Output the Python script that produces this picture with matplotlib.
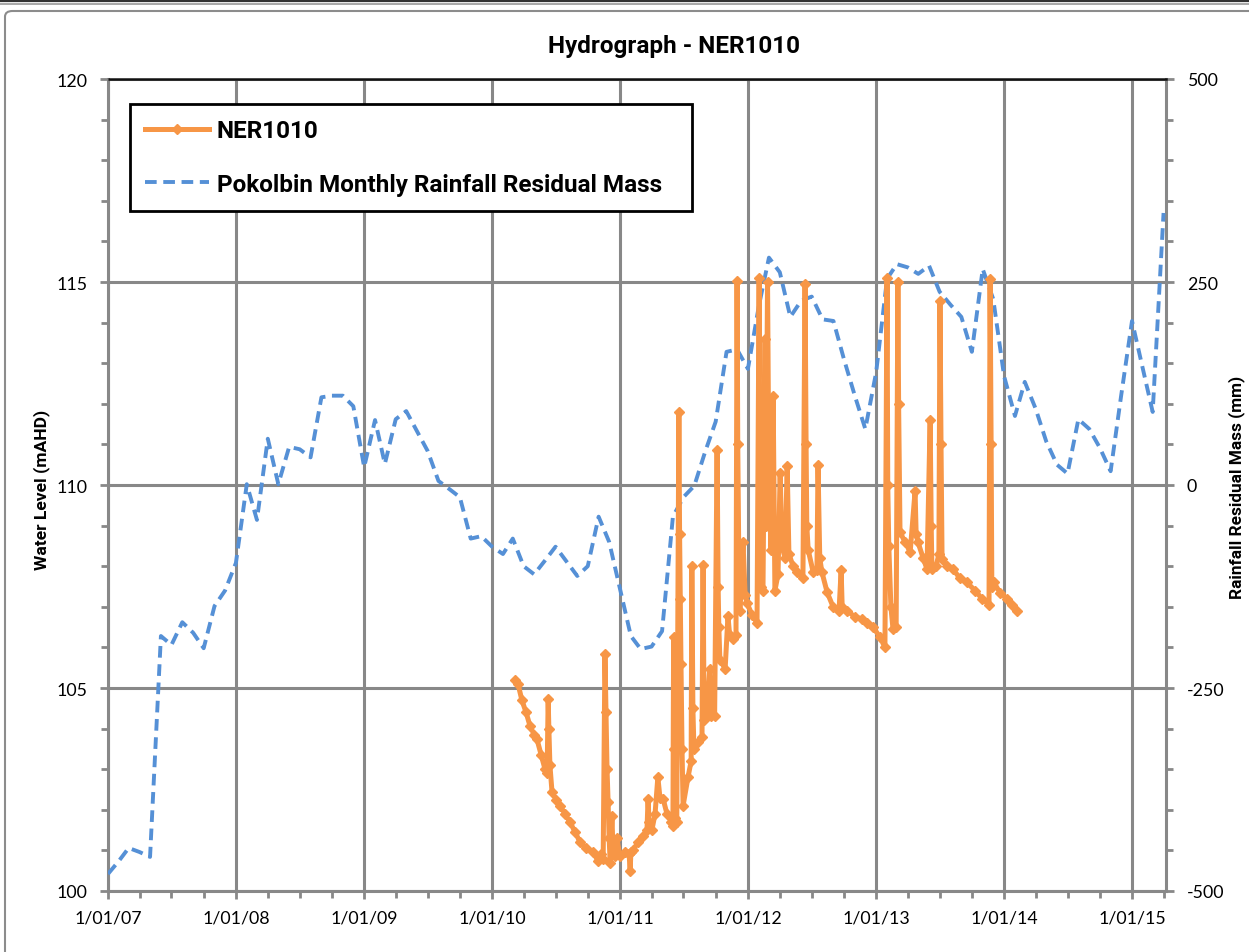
import matplotlib
matplotlib.use("Agg")
import matplotlib.pyplot as plt
import matplotlib.dates as mdates
import matplotlib.ticker as mticker
import pandas as pd
from matplotlib.patches import FancyBboxPatch
from matplotlib.lines import Line2D

plt.rcParams['font.family'] = ['Lato', 'DejaVu Sans']
plt.rcParams['axes.unicode_minus'] = False
BOLD_FAMILY = ['Roboto', 'DejaVu Sans']

# ---------------- text ----------------
title = "Hydrograph - NER1010"
wl_label = "NER1010"
rain_label = "Pokolbin Monthly Rainfall Residual Mass"
y_left_label = "Water Level (mAHD)"
y_right_label = "Rainfall Residual Mass (mm)"

# ---------------- data ----------------
# Monthly rainfall residual mass (mm), Jan 2007 .. Apr 2015
rain_start = "2007-01-01"
rain_resid = [
    -479, -463, -447, -452, -458, -186, -197, -169, -182, -201, -149, -130,   # 2007
    -96, 1, -43, 57, 1, 47, 44, 34, 108, 110, 110, 97,                         # 2008
    22, 80, 26, 81, 91, 66, 42, 5, -5, -15, -66, -63,                          # 2009
    -76, -85, -66, -100, -110, -93, -76, -94, -112, -100, -39, -70,            # 2010
    -128, -186, -202, -199, -180, -39, -15, -1, 41, 78, 164, 167,              # 2011
    143, 220, 280, 262, 207, 227, 232, 204, 202, 155, 110, 69,                 # 2012
    139, 254, 272, 268, 260, 270, 238, 222, 207, 164, 266, 229,                # 2013
    134, 85, 127, 94, 54, 25, 14, 81, 69, 46, 17, 110,                         # 2014
    202, 143, 90, 335,                                                         # 2015
]

# NER1010 water level (mAHD)
wl_dates = [
    "2010-03-07", "2010-03-16", "2010-03-27", "2010-04-08", "2010-04-19", "2010-05-01",
    "2010-05-09", "2010-05-21", "2010-06-01", "2010-06-07", "2010-06-10", "2010-06-12",
    "2010-06-15", "2010-06-21", "2010-07-02", "2010-07-14", "2010-07-28", "2010-08-11",
    "2010-08-26", "2010-09-09", "2010-09-26", "2010-10-16", "2010-10-30", "2010-11-08",
    "2010-11-14", "2010-11-19", "2010-11-22", "2010-11-25", "2010-11-28", "2010-12-01",
    "2010-12-04", "2010-12-09", "2010-12-12", "2010-12-18", "2010-12-23", "2011-01-01",
    "2011-01-15", "2011-01-27", "2011-01-30", "2011-02-01", "2011-02-07", "2011-02-21",
    "2011-03-08", "2011-03-19", "2011-03-22", "2011-03-25", "2011-04-02", "2011-04-11",
    "2011-04-19", "2011-04-25", "2011-05-04", "2011-05-15", "2011-05-27", "2011-06-01",
    "2011-06-03", "2011-06-05", "2011-06-08", "2011-06-12", "2011-06-18", "2011-06-20",
    "2011-06-22", "2011-06-24", "2011-06-27", "2011-06-30", "2011-07-14", "2011-07-23",
    "2011-07-25", "2011-07-28", "2011-07-31", "2011-08-11", "2011-08-23", "2011-08-26",
    "2011-08-29", "2011-09-05", "2011-09-14", "2011-09-19", "2011-09-28", "2011-10-05",
    "2011-10-08", "2011-10-10", "2011-10-13", "2011-10-28", "2011-11-05", "2011-11-10",
    "2011-11-19", "2011-11-28", "2011-12-01", "2011-12-03", "2011-12-06", "2011-12-09",
    "2011-12-18", "2011-12-24", "2011-12-29",
    "2012-01-13", "2012-01-27", "2012-02-02", "2012-02-04", "2012-02-07", "2012-02-13",
    "2012-02-19", "2012-02-21", "2012-02-26", "2012-03-01", "2012-03-07", "2012-03-13",
    "2012-03-18", "2012-03-27", "2012-04-02", "2012-04-07", "2012-04-16", "2012-04-22",
    "2012-04-27", "2012-05-09", "2012-05-20", "2012-06-06", "2012-06-12", "2012-06-15",
    "2012-06-17", "2012-06-21", "2012-07-05", "2012-07-16", "2012-07-19", "2012-07-24",
    "2012-07-30", "2012-08-14", "2012-08-31", "2012-09-17", "2012-09-23", "2012-09-26",
    "2012-10-10", "2012-11-02", "2012-11-22", "2012-12-06", "2012-12-23",
    "2013-01-12", "2013-01-26", "2013-02-01", "2013-02-03", "2013-02-06", "2013-02-12",
    "2013-02-18", "2013-02-27", "2013-03-04", "2013-03-06", "2013-03-10", "2013-03-24",
    "2013-04-08", "2013-04-22", "2013-04-25", "2013-04-30", "2013-05-15", "2013-05-26",
    "2013-06-04", "2013-06-07", "2013-06-09", "2013-06-21", "2013-06-29", "2013-07-02",
    "2013-07-05", "2013-07-08", "2013-07-22", "2013-08-08", "2013-08-28", "2013-09-17",
    "2013-10-10", "2013-10-30", "2013-11-19", "2013-11-22", "2013-11-25", "2013-11-27",
    "2013-12-03", "2013-12-20", "2014-01-09", "2014-01-24", "2014-02-07",
]
wl_values = [
    105.20, 105.10, 104.70, 104.40, 104.07, 103.85,
    103.74, 103.35, 103.00, 102.90, 104.73, 104.00,
    103.10, 102.44, 102.25, 102.10, 101.90, 101.70,
    101.45, 101.20, 101.05, 100.96, 100.74, 100.90,
    100.80, 105.84, 104.40, 103.00, 102.20, 101.30,
    100.70, 101.85, 101.00, 100.85, 101.30, 100.85,
    100.95, 100.90, 100.50, 100.95, 101.00, 101.20,
    101.35, 101.50, 102.27, 101.70, 101.50, 101.90,
    102.80, 102.30, 102.27, 101.90, 101.70, 101.60,
    106.25, 103.50, 101.80, 101.70, 111.80, 108.80,
    107.20, 105.60, 103.50, 102.10, 102.80, 103.20,
    108.00, 104.50, 103.50, 103.67, 103.80, 108.03,
    104.20, 104.30, 105.47, 104.30, 104.30, 110.86,
    107.50, 106.50, 105.70, 105.47, 106.77, 106.30,
    106.20, 106.30, 115.02, 111.00, 108.20, 106.90,
    108.60, 107.30, 107.10,
    106.80, 106.60, 115.10, 110.00, 107.50, 107.40,
    113.60, 109.00, 115.00, 110.00, 108.40, 112.20,
    107.40, 107.80, 110.30, 108.50, 108.20, 110.47,
    108.30, 108.00, 107.86, 107.70, 114.95, 111.00,
    109.00, 108.40, 107.86, 107.90, 110.50, 108.20,
    107.86, 107.36, 107.00, 106.90, 107.90, 107.00,
    106.90, 106.75, 106.70, 106.60, 106.50,
    106.25, 106.00, 115.10, 110.00, 108.50, 107.00,
    106.45, 106.50, 115.00, 112.00, 108.84, 108.60,
    108.35, 109.85, 108.80, 108.60, 108.20, 107.93,
    111.60, 109.00, 107.93, 108.00, 108.30, 114.53,
    111.00, 108.18, 108.00, 107.93, 107.70, 107.60,
    107.40, 107.20, 107.05, 115.07, 111.00, 107.50,
    107.60, 107.35, 107.20, 107.05, 106.90,
]

x_start = "2007-01-01"
x_end = "2015-04-08"

# ---------------- style ----------------
ORANGE = "#F79646"
BLUE = "#5590D6"
GRID = "#888888"

W, H = 1249, 953
fig = plt.figure(figsize=(W / 100, H / 100), dpi=100)

rect = [108 / W, 1 - 892 / H, (1166 - 108) / W, (892 - 80) / H]
ax_r = fig.add_axes(rect)
ax_l = fig.add_axes(rect, sharex=ax_r)
ax_l.patch.set_visible(False)

rain_x = pd.date_range(rain_start, periods=len(rain_resid), freq="MS")
wl_x = pd.to_datetime(wl_dates)

# rainfall residual (right axis), dashed blue
ax_r.plot(rain_x, rain_resid, color=BLUE, lw=2.8, ls=(0, (3.0, 1.7)),
          dash_capstyle="butt", zorder=3)
# water level (left axis), orange with diamonds
ax_l.plot(wl_x, wl_values, color=ORANGE, lw=3.6, marker="D", ms=5.5,
          mec=ORANGE, mfc=ORANGE, zorder=3)

ax_r.set_xlim(pd.Timestamp(x_start), pd.Timestamp(x_end))
ax_r.set_ylim(-500, 500)
ax_l.set_ylim(100, 120)

# ticks
ax_r.xaxis.set_major_locator(mdates.YearLocator())
ax_r.xaxis.set_minor_locator(mdates.MonthLocator(bymonth=[4, 7, 10]))
ax_r.xaxis.set_major_formatter(mticker.FuncFormatter(
    lambda v, p: (lambda d: f"{d.day}/{d.month:02d}/{d.year % 100:02d}")(mdates.num2date(v))))
ax_r.yaxis.tick_right()
ax_r.yaxis.set_major_locator(mticker.MultipleLocator(250))
ax_r.yaxis.set_minor_locator(mticker.MultipleLocator(50))
ax_l.yaxis.set_major_locator(mticker.MultipleLocator(5))
ax_l.yaxis.set_minor_locator(mticker.MultipleLocator(1))
ax_l.xaxis.set_visible(False)

for a in (ax_r, ax_l):
    a.tick_params(which="both", direction="out", color=GRID, width=2, labelsize=12.8,
                  labelcolor="black")
    a.tick_params(which="major", length=6)
    a.tick_params(which="minor", length=5)
ax_r.tick_params(axis="x", pad=7)
ax_r.tick_params(axis="y", pad=9)
ax_l.tick_params(axis="y", pad=9)

ax_r.grid(True, which="major", color=GRID, lw=2.2)
ax_r.set_axisbelow(True)

for s in ("left", "right", "bottom"):
    ax_r.spines[s].set_color(GRID)
    ax_r.spines[s].set_linewidth(2.2)
ax_r.spines["top"].set_color("#111111")
ax_r.spines["top"].set_linewidth(1.8)
for s in ax_l.spines.values():
    s.set_visible(False)

# legend
h1 = Line2D([], [], color=ORANGE, lw=3.6, marker="D", ms=5.5)
h2 = Line2D([], [], color=BLUE, lw=2.8, ls=(0, (3.0, 1.7)))
x0 = (130 - 108) / (1166 - 108)
x1 = (692 - 108) / (1166 - 108)
ytop = (892 - 105) / (892 - 80)
leg = ax_l.legend([h1, h2], [wl_label, rain_label], loc="upper left",
                  bbox_to_anchor=(x0, ytop - 0.2, x1 - x0, 0.2), mode="expand",
                  borderaxespad=0, fancybox=False, frameon=True, framealpha=1,
                  edgecolor="black",
                  prop={"family": BOLD_FAMILY, "weight": "bold", "size": 17.5},
                  handlelength=2.65, handletextpad=0.3, labelspacing=1.26,
                  borderpad=0.62)
leg.get_frame().set_linewidth(2.0)

# titles / axis labels
fig.text(674 / W, 1 - 46 / H, title, ha="center", va="center",
         fontsize=17.5, fontweight="bold", family=BOLD_FAMILY)
fig.text(42 / W, 1 - 490 / H, y_left_label, ha="center", va="center",
         rotation=90, fontsize=12.6, fontweight="bold", family=BOLD_FAMILY)
fig.text(1237 / W, 1 - 487 / H, y_right_label, ha="center", va="center",
         rotation=90, fontsize=12.4, fontweight="bold", family=BOLD_FAMILY)

# chart frame
frame = FancyBboxPatch((5 / W, -0.05), 1.2, 1 - 12 / H + 0.05,
                       boxstyle="round,pad=0,rounding_size=0.006",
                       transform=fig.transFigure, fill=False,
                       edgecolor="#8c8c8c", lw=1.5, zorder=0)
fig.patches.append(frame)
fig.add_artist(Line2D([0, 1], [1 - 1.5 / H] * 2, color="#333333", lw=1.6,
                      transform=fig.transFigure))
fig.add_artist(Line2D([0, 1], [1 - 4.5 / H] * 2, color="#9a9a9a", lw=1.2,
                      transform=fig.transFigure))

fig.savefig("out.png", dpi=100)
